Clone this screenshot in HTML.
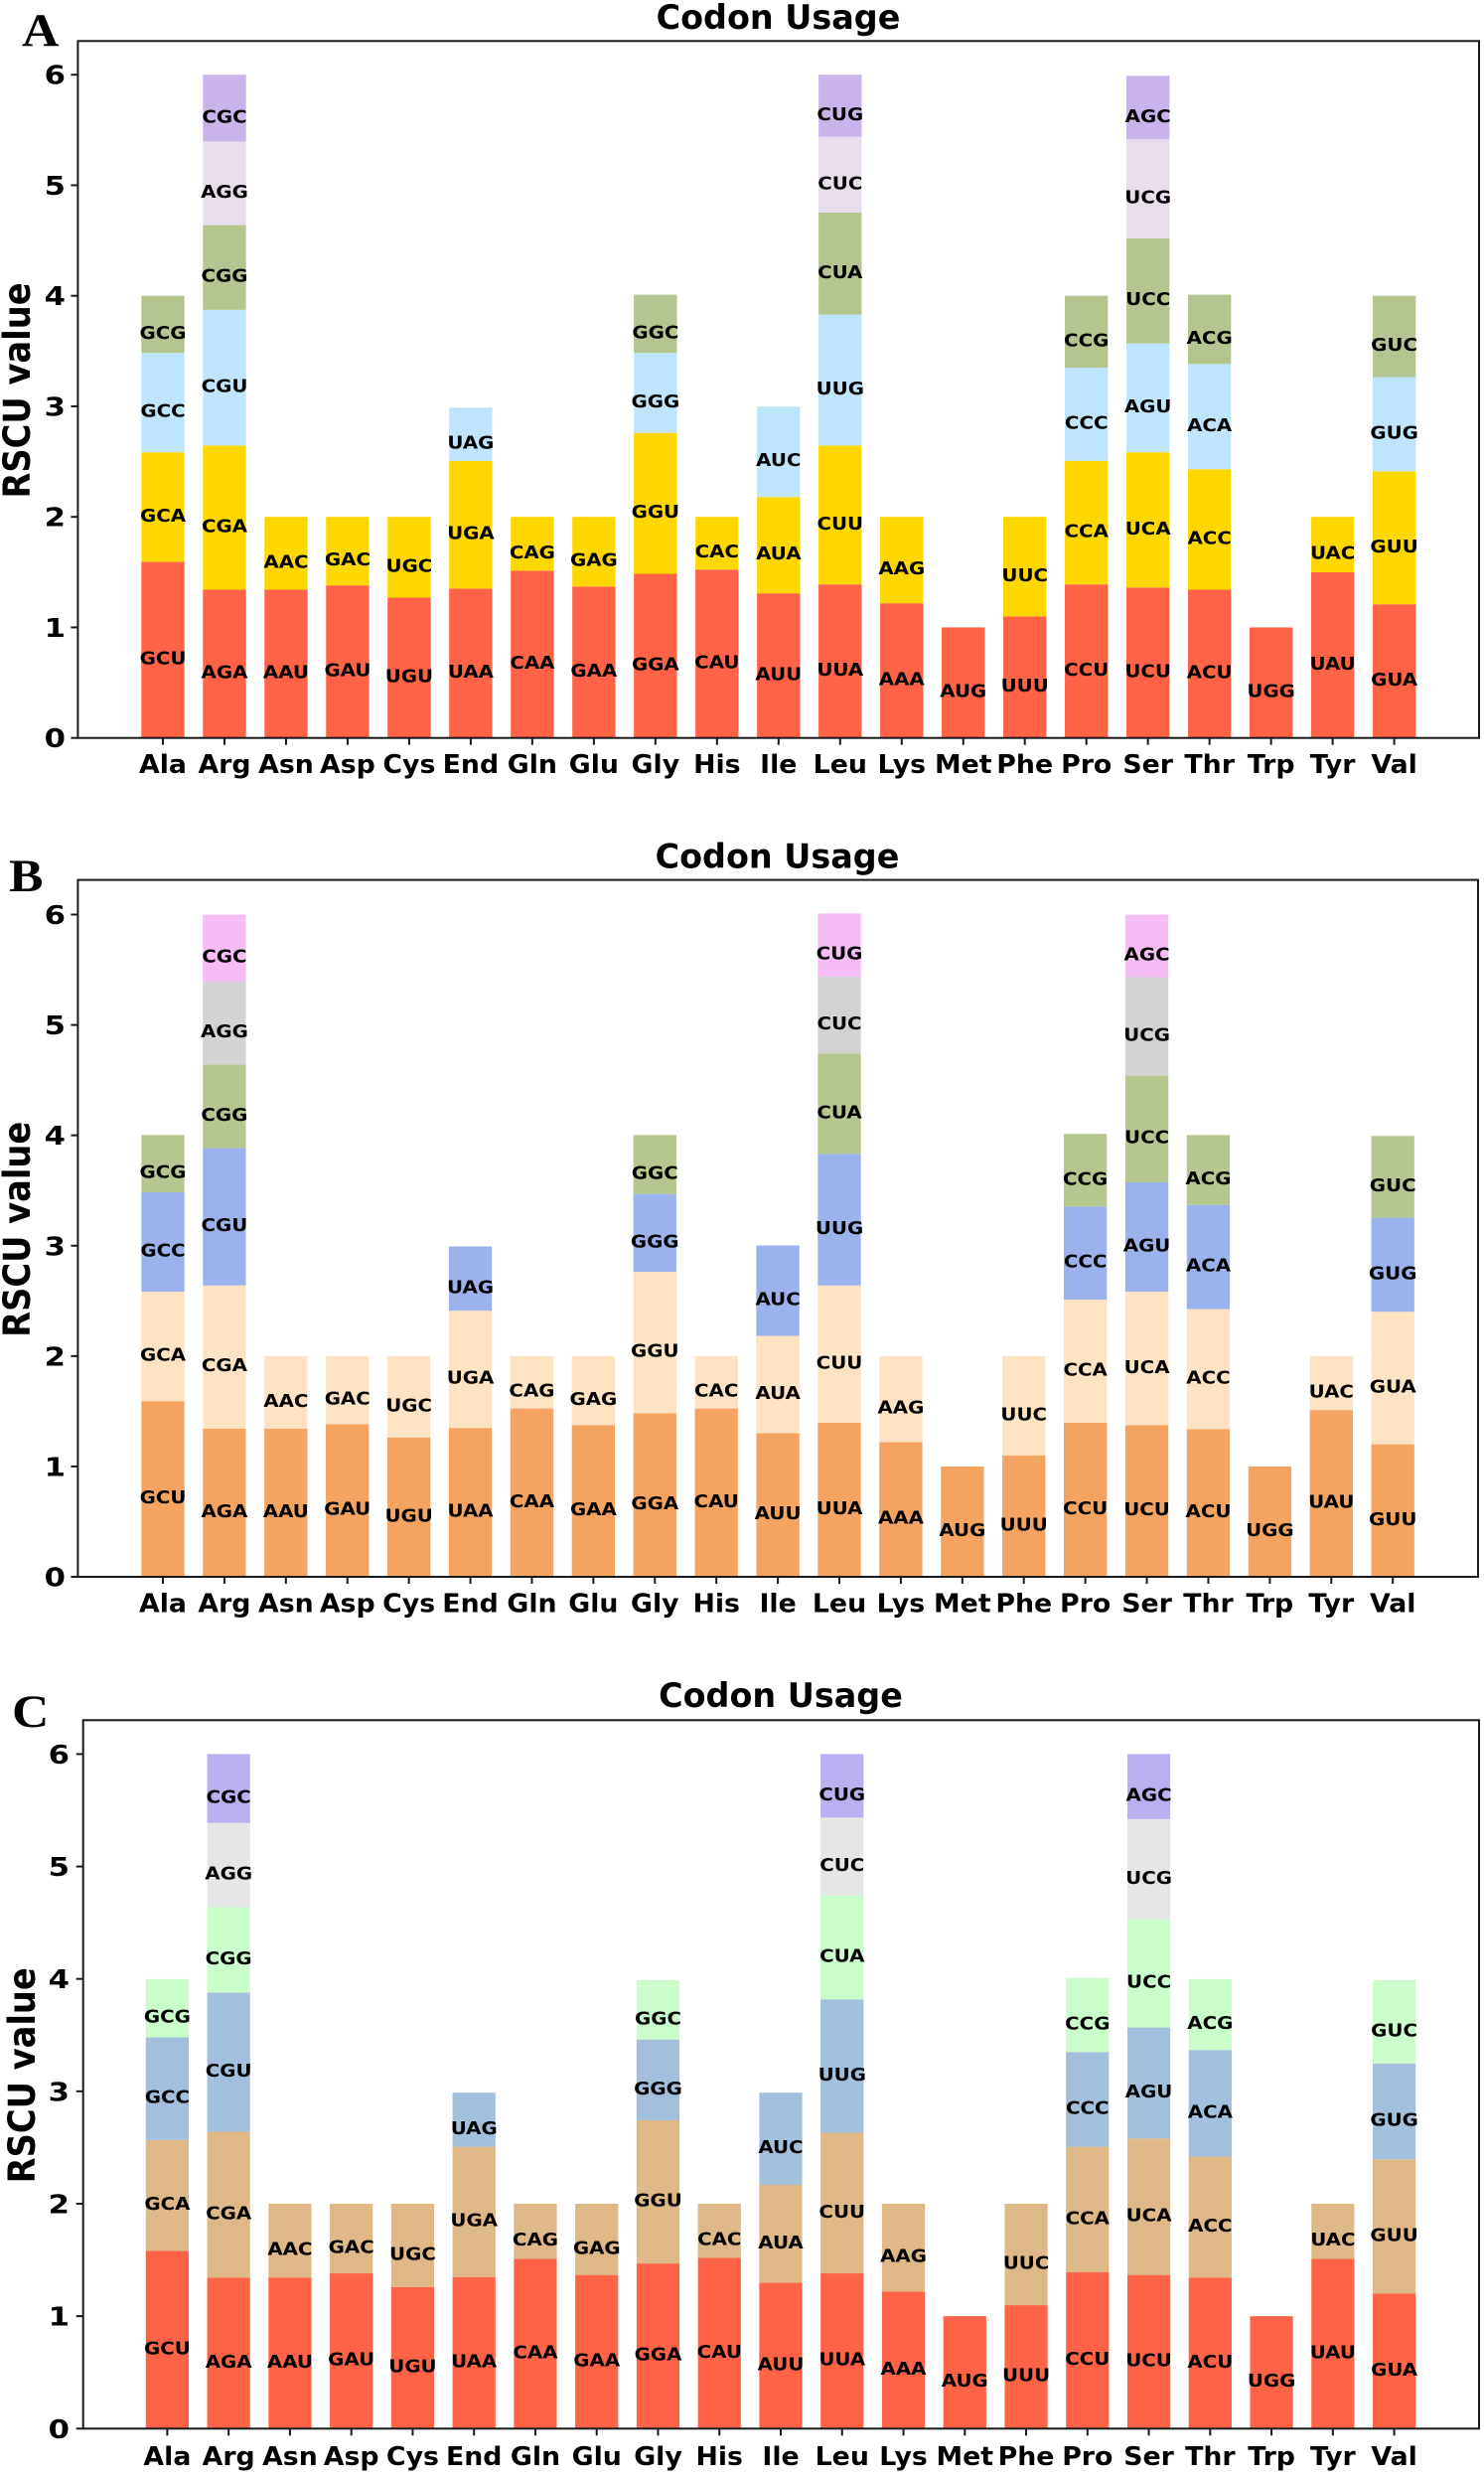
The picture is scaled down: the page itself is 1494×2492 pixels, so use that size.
<!DOCTYPE html>
<html lang="en">
<head>
<meta charset="utf-8">
<title>Codon Usage</title>
<style>
html,body{margin:0;padding:0;background:#fff;}
svg{display:block;}
text{font-family:"DejaVu Sans","Liberation Sans",sans-serif;font-weight:bold;fill:#000;}
.letter{font-family:"Liberation Serif",serif;font-size:47px;}
</style>
</head>
<body>
<svg id="figure" xmlns="http://www.w3.org/2000/svg" width="1494" height="2492" viewBox="0 0 1494 2492">
  <rect width="1494" height="2492" fill="#fff"/>
  <text class="letter" transform="translate(22,46) scale(1.1,1)">A</text>
  <text class="letter" transform="translate(9,897) scale(1.1,1)">B</text>
  <text class="letter" transform="translate(12,1738) scale(1.1,1)">C</text>
</svg>
<script>
const aminoAcids = ["Ala","Arg","Asn","Asp","Cys","End","Gln","Glu","Gly","His","Ile","Leu","Lys","Met","Phe","Pro","Ser","Thr","Trp","Tyr","Val"];
const yTickValues = [0,1,2,3,4,5,6];

const codonsA = [["GCU","GCA","GCC","GCG"],["AGA","CGA","CGU","CGG","AGG","CGC"],["AAU","AAC"],["GAU","GAC"],["UGU","UGC"],["UAA","UGA","UAG"],["CAA","CAG"],["GAA","GAG"],["GGA","GGU","GGG","GGC"],["CAU","CAC"],["AUU","AUA","AUC"],["UUA","CUU","UUG","CUA","CUC","CUG"],["AAA","AAG"],["AUG"],["UUU","UUC"],["CCU","CCA","CCC","CCG"],["UCU","UCA","AGU","UCC","UCG","AGC"],["ACU","ACC","ACA","ACG"],["UGG"],["UAU","UAC"],["GUA","GUU","GUG","GUC"]];
const codonsB = [["GCU","GCA","GCC","GCG"],["AGA","CGA","CGU","CGG","AGG","CGC"],["AAU","AAC"],["GAU","GAC"],["UGU","UGC"],["UAA","UGA","UAG"],["CAA","CAG"],["GAA","GAG"],["GGA","GGU","GGG","GGC"],["CAU","CAC"],["AUU","AUA","AUC"],["UUA","CUU","UUG","CUA","CUC","CUG"],["AAA","AAG"],["AUG"],["UUU","UUC"],["CCU","CCA","CCC","CCG"],["UCU","UCA","AGU","UCC","UCG","AGC"],["ACU","ACC","ACA","ACG"],["UGG"],["UAU","UAC"],["GUU","GUA","GUG","GUC"]];
const codonsC = codonsA;

const rscuA = [[1.594,.990,.899,.517],[1.342,1.303,1.228,.766,.757,.604],[1.342,.658],[1.38,.62],[1.27,.73],[1.351,1.156,.481],[1.513,.487],[1.37,.63],[1.485,1.275,.723,.527],[1.523,.477],[1.308,.871,.819],[1.389,1.256,1.185,.923,.685,.562],[1.218,.782],[1],[1.099,.901],[1.389,1.118,.843,.65],[1.361,1.223,.985,.951,.895,.575],[1.342,1.089,.952,.627],[1],[1.499,.501],[1.209,1.203,.852,.736]];
const rscuB = [[1.592,.991,.901,.519],[1.344,1.296,1.244,.758,.753,.605],[1.344,.656],[1.382,.618],[1.263,.737],[1.349,1.062,.582],[1.525,.475],[1.373,.627],[1.482,1.282,.705,.534],[1.525,.475],[1.301,.882,.819],[1.396,1.244,1.192,.91,.696,.572],[1.22,.78],[1],[1.101,.899],[1.396,1.116,.843,.658],[1.373,1.21,.991,.968,.891,.567],[1.339,1.087,.943,.634],[1],[1.511,.489],[1.201,1.201,.853,.739]];
const rscuC = [[1.58,.987,.913,.518],[1.344,1.297,1.237,.76,.75,.612],[1.344,.656],[1.381,.619],[1.26,.74],[1.348,1.159,.481],[1.51,.49],[1.367,.633],[1.469,1.274,.718,.528],[1.52,.48],[1.297,.871,.82],[1.381,1.251,1.186,.922,.695,.565],[1.219,.781],[1],[1.098,.902],[1.39,1.117,.843,.658],[1.367,1.214,.987,.963,.89,.579],[1.344,1.075,.949,.63],[1],[1.51,.49],[1.2,1.195,.853,.741]];

const coloursA = ["#FF6347","#FFD700","#BFE5FC","#B5C58F","#E8DDEB","#C8B4EA"];
const coloursB = ["#F4A460","#FEE3C3","#9CB2EC","#B5C78F","#D3D3D3","#F5BDF4"];
const coloursC = ["#FF6347","#DEB887","#A2BFDB","#C9FDC9","#E6E6E6","#BBAFF0"];

const panels = [
  {id:"a",codons:codonsA,values:rscuA,colours:coloursA,left:78.4,right:1489,top:41.3,zero:742.7,six:75.2,first:164,last:1403.6,titleX:783.5,titleY:29,ylabelX:30,digitX:66,xlabelY:778},
  {id:"b",codons:codonsB,values:rscuB,colours:coloursB,left:78.4,right:1488,top:885.6,zero:1587,six:920.5,first:164,last:1402.2,titleX:782.5,titleY:873.4,ylabelX:30,digitX:66,xlabelY:1622.5},
  {id:"c",codons:codonsC,values:rscuC,colours:coloursC,left:83.7,right:1489,top:1731.3,zero:2444.3,six:1765.4,first:168.4,last:1403.6,titleX:786,titleY:1718,ylabelX:35,digitX:70,xlabelY:2481}
];

const NS = "http://www.w3.org/2000/svg";
const figure = document.getElementById("figure");

function make(parent, tag, attrs, text){
  const el = document.createElementNS(NS, tag);
  for (const k in attrs) el.setAttribute(k, attrs[k]);
  if (text !== undefined) el.textContent = text;
  parent.appendChild(el);
  return el;
}

panels.forEach(function(p){
  const g = make(figure, "g", {});
  
  

  const yScale = function(v){ return p.zero - v * (p.zero - p.six) / 6; };
  const xScale = function(i){ return p.first + i * (p.last - p.first) / (aminoAcids.length - 1); };
  const barWidth = 0.7 * (p.last - p.first) / (aminoAcids.length - 1);

  aminoAcids.forEach(function(name, i){
    let cumulative = 0;
    p.values[i].forEach(function(value, s){
      const y0 = yScale(cumulative);
      const y1 = yScale(cumulative + value);
      const bar = make(g, "rect", {x:xScale(i) - barWidth / 2, y:y1, width:barWidth, height:y0 - y1, fill:p.colours[s]});
      
      
      cumulative += value;
    });
  });

  aminoAcids.forEach(function(name, i){
    let cumulative = 0;
    p.values[i].forEach(function(value, s){
      const mid = yScale(cumulative + value / 2);
      const label = make(g, "text", {transform:"translate(" + xScale(i) + "," + (mid + 14.5) + ") scale(1.1,1)", "text-anchor":"middle", "font-size":"18"}, p.codons[i][s]);
      
      
      cumulative += value;
    });
  });

  const frame = make(g, "rect", {x:p.left, y:p.top, width:p.right - p.left, height:p.zero - p.top, fill:"none", stroke:"#1a1a1a", "stroke-width":"2"});
  
  

  yTickValues.forEach(function(t){
    const yy = yScale(t);
    const tick = make(g, "line", {x1:p.left - 7, x2:p.left, y1:yy, y2:yy, stroke:"#1a1a1a", "stroke-width":"2"});
    
    
    const lab = make(g, "text", {transform:"translate(" + p.digitX + "," + (yy + 9.5) + ") scale(1.18,1)", "text-anchor":"end", "font-size":"26"}, String(t));
    
    
  });

  aminoAcids.forEach(function(name, i){
    const xx = xScale(i);
    const tick = make(g, "line", {x1:xx, x2:xx, y1:p.zero, y2:p.zero + 7, stroke:"#1a1a1a", "stroke-width":"2"});
    
    
    const lab = make(g, "text", {transform:"translate(" + xx + "," + p.xlabelY + ") scale(1.03,1)", "text-anchor":"middle", "font-size":"26"}, name);
    
    
  });

  const title = make(g, "text", {x:p.titleX, y:p.titleY, "text-anchor":"middle", "font-size":"33.4"}, "Codon Usage");
  
  

  const ylabelMid = (p.zero + p.top) / 2 + 1;
  const ylabel = make(g, "text", {transform:"translate(" + p.ylabelX + "," + ylabelMid + ") rotate(-90) scale(1,1.12)", "text-anchor":"middle", "font-size":"33.7"}, "RSCU value");
  
  
});
</script>
</body>
</html>
